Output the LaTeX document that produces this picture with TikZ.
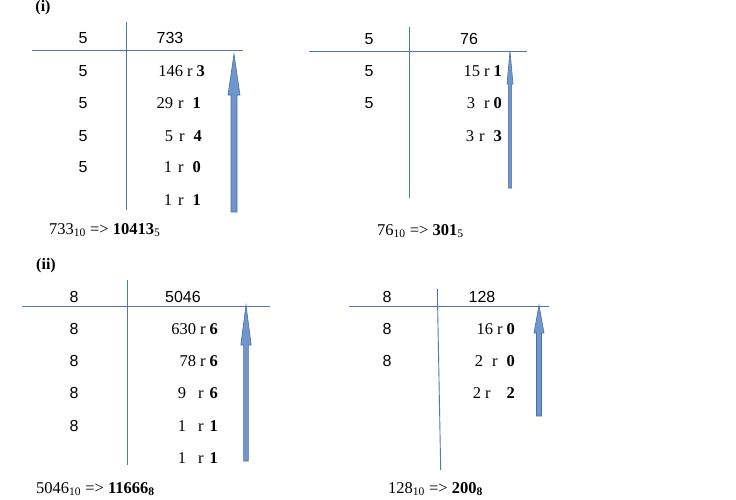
\documentclass[tikz,border=0pt]{standalone}
\usepackage{fontspec}
\setmainfont{Liberation Serif}
\newfontfamily\sansf{Liberation Sans}
\usetikzlibrary{calc}
\definecolor{ln}{HTML}{4F78B0}
\definecolor{af}{HTML}{7097CC}
\definecolor{ab}{HTML}{4A6EA8}
\newcommand\gap[1]{\hspace{#1pt}}
\newcommand\bigarr[5]{% tail, tip, shaft half width, head half width, head length
  \fill[af] let \p1=(#1), \p2=(#2) in
    (\x1-#3,\y1) -- (\x1-#3,\y2-#5) -- (\x2-#4,\y2-#5) -- (\p2) -- (\x2+#4,\y2-#5) -- (\x1+#3,\y2-#5) -- (\x1+#3,\y1) -- cycle;
  \draw[ab,line width=0.6pt,line join=miter] let \p1=(#1), \p2=(#2) in
    (\x1-#3,\y1) -- (\x1-#3,\y2-#5) -- (\x2-#4,\y2-#5) -- (\p2) -- (\x2+#4,\y2-#5) -- (\x1+#3,\y2-#5) -- (\x1+#3,\y1) -- cycle;}
\begin{document}
\begin{tikzpicture}[x=1pt,y=-1pt,
  sn/.style={font=\sansf\fontsize{16}{19}\selectfont, inner sep=0},
  qn/.style={font=\fontsize{16.5}{19}\selectfont, inner sep=0, anchor=east},
  lbl/.style={font=\fontsize{16.5}{19}\selectfont, inner sep=0, anchor=west},
  hd/.style={font=\bfseries\fontsize{16}{19}\selectfont, inner sep=0},
  rule/.style={draw=ln, line width=0.9pt}]
\useasboundingbox[fill=white] (0,0) rectangle (736,499);

% ---------- (i) left ----------
\node[hd] (t1) at (43,8) {(i)};
\coordinate (v1a) at (126,22); \coordinate (v1b) at (126,210);
\coordinate (h1a) at (32,50); \coordinate (h1b) at (243,50);
\draw[rule] (v1a) -- (v1b);
\draw[rule] (h1a) -- (h1b);
\node[sn] (d11) at (83,38) {5};
\node[sn] (d12) at (83,71) {5};
\node[sn] (d13) at (83,103) {5};
\node[sn] (d14) at (83,136) {5};
\node[sn] (d15) at (83,167) {5};
\node[sn] (n1) at (170,38) {733};
\node[qn] (q11) at (205,71) {146\gap{4}r\gap{4}\textbf{3}};
\node[qn] (q12) at (201,103) {29\gap{5}r\gap{9}\textbf{1}};
\node[qn] (q13) at (202,136) {5\gap{6}r\gap{9}\textbf{4}};
\node[qn] (q14) at (201,167) {1\gap{6}r\gap{9}\textbf{0}};
\node[qn] (q15) at (201,200) {1\gap{6}r\gap{9}\textbf{1}};
\coordinate (a1s) at (234,212); \coordinate (a1t) at (234,54);
\bigarr{a1s}{a1t}{3}{6}{41}
\node[lbl] (l1) at (49,230) {733\textsubscript{10} => \textbf{10413}\textsubscript{5}};

% ---------- (i) right ----------
\coordinate (v2a) at (409,27); \coordinate (v2b) at (409,198);
\coordinate (h2a) at (309,51); \coordinate (h2b) at (527,51);
\draw[rule] (v2a) -- (v2b);
\draw[rule] (h2a) -- (h2b);
\node[sn] (d21) at (369,39) {5};
\node[sn] (d22) at (369,71) {5};
\node[sn] (d23) at (369,103) {5};
\node[sn] (n2) at (469,39) {76};
\node[qn] (q21) at (502,71) {15\gap{4}r\gap{4}\textbf{1}};
\node[qn] (q22) at (502,103) {3\gap{9}r\gap{4}\textbf{0}};
\node[qn] (q23) at (502,136) {3\gap{5}r\gap{9}\textbf{3}};
\coordinate (a2s) at (510,188); \coordinate (a2t) at (510,51);
\bigarr{a2s}{a2t}{1.6}{3}{33}
\node[lbl] (l2) at (377,231) {76\textsubscript{10} => \textbf{301}\textsubscript{5}};

% ---------- (ii) left ----------
\node[hd] (t2) at (46,266) {(ii)};
\coordinate (v3a) at (127.5,280); \coordinate (v3b) at (127.5,465);
\coordinate (h3a) at (22,306); \coordinate (h3b) at (270,306);
\draw[rule] (v3a) -- (v3b);
\draw[rule] (h3a) -- (h3b);
\node[sn] (d31) at (74,297) {8};
\node[sn] (d32) at (74,329) {8};
\node[sn] (d33) at (74,361) {8};
\node[sn] (d34) at (74,393) {8};
\node[sn] (d35) at (74,426) {8};
\node[sn] (n3) at (183,297) {5046};
\node[qn] (q31) at (218,329) {630\gap{4}r\gap{4}\textbf{6}};
\node[qn] (q32) at (218,361) {78\gap{4}r\gap{4}\textbf{6}};
\node[qn] (q33) at (218,393) {9\gap{12}r\gap{6}\textbf{6}};
\node[qn] (q34) at (218,426) {1\gap{12}r\gap{6}\textbf{1}};
\node[qn] (q35) at (218,458) {1\gap{12}r\gap{6}\textbf{1}};
\coordinate (a3s) at (246,461); \coordinate (a3t) at (246,305);
\bigarr{a3s}{a3t}{2.4}{5.2}{40}
\node[lbl] (l3) at (36,489) {5046\textsubscript{10} => \textbf{11666\textsubscript{8}}};

% ---------- (ii) right ----------
\coordinate (v4a) at (437.3,289); \coordinate (v4b) at (440.7,470);
\coordinate (h4a) at (349,306); \coordinate (h4b) at (549,306);
\draw[rule] (v4a) -- (v4b);
\draw[rule] (h4a) -- (h4b);
\node[sn] (d41) at (387,297) {8};
\node[sn] (d42) at (387,329) {8};
\node[sn] (d43) at (387,361) {8};
\node[sn] (n4) at (482,297) {128};
\node[qn] (q41) at (515,329) {16\gap{4}r\gap{4}\textbf{0}};
\node[qn] (q42) at (515,361) {2\gap{9}r\gap{9}\textbf{0}};
\node[qn] (q43) at (515,393) {2\gap{4}r\gap{16}\textbf{2}};
\coordinate (a4s) at (539,416); \coordinate (a4t) at (539,305);
\bigarr{a4s}{a4t}{2.5}{5}{28}
\node[lbl] (l4) at (388,489) {128\textsubscript{10} => \textbf{200\textsubscript{8}}};
\end{tikzpicture}
\end{document}
